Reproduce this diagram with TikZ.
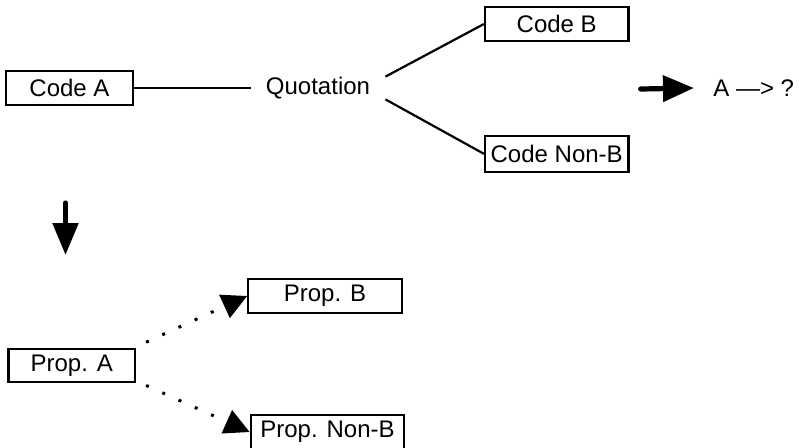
\documentclass[tikz,border=0pt]{standalone}
\usepackage{fontspec}
\setmainfont{Liberation Sans}
\usetikzlibrary{arrows.meta}

\begin{document}
\begin{tikzpicture}[
x=0.5pt,
y=-0.5pt,
box/.style={
  draw,
  line width=1.1pt,
  inner sep=0pt,
  minimum height=16.7pt,
  font=\fontsize{12}{14}\selectfont
  },
plain/.style={
  draw=none,
  inner xsep=7.5pt,
  inner ysep=0pt,
  minimum height=10.85pt,
  font=\fontsize{12}{14}\selectfont
  },
link/.style={
  line width=1.1pt
  },
bigarrow/.style={
  line width=2.6pt,
  line cap=round
  },
dots/.style={
  line width=1.5pt,
  dash pattern=on 1.5pt off 7.4pt,
  -{Triangle[length=12.5pt,width=12.5pt]}
  }
]
\useasboundingbox (0,0) rectangle (799,447);

\node[box, minimum width=63.5pt] (codeA) at (69.5,88) {Code A};
\node[plain] (quot) at (318,88) {Quotation};
\node[box, minimum width=71.7pt] (codeB) at (556.7,24) {Code B};
\node[box, minimum width=71.7pt, minimum height=17.8pt] (codeNonB) at (556.7,153.8) {Code Non-B};
\node[plain, inner xsep=0pt] (result) at (753.7,88) {A —> ?};
\coordinate (go) at (640.7,89);

\draw[link] (codeA) -- (quot);
\draw[link] (quot.north east) -- (codeB.west);
\draw[link] (quot.south east) -- (codeNonB.west);
\draw[bigarrow, -{Triangle[length=15.5pt,width=12.8pt]}] (go) -- ([xshift=-9.5pt]result.west);

% step down
\coordinate (downtop) at (65.5,203);
\coordinate (downtip) at (65.5,255);
\draw[bigarrow, -{Triangle[length=16pt,width=12.5pt]}] (downtop) -- (downtip);

\node[box, minimum width=63.3pt, minimum height=16.2pt] (propA) at (71.7,365.5) {Prop. A};
\node[box, minimum width=76.7pt] (propB) at (325,296) {Prop. B};
\node[box, minimum width=76.8pt] (propNonB) at (327.5,432) {Prop. Non-B};

\draw[dots] ([shift={(5pt,3pt)}]propA.north east) -- (propB.west);
\draw[dots] ([shift={(5pt,-1.3pt)}]propA.south east) -- (propNonB.west);
\end{tikzpicture}
\end{document}
